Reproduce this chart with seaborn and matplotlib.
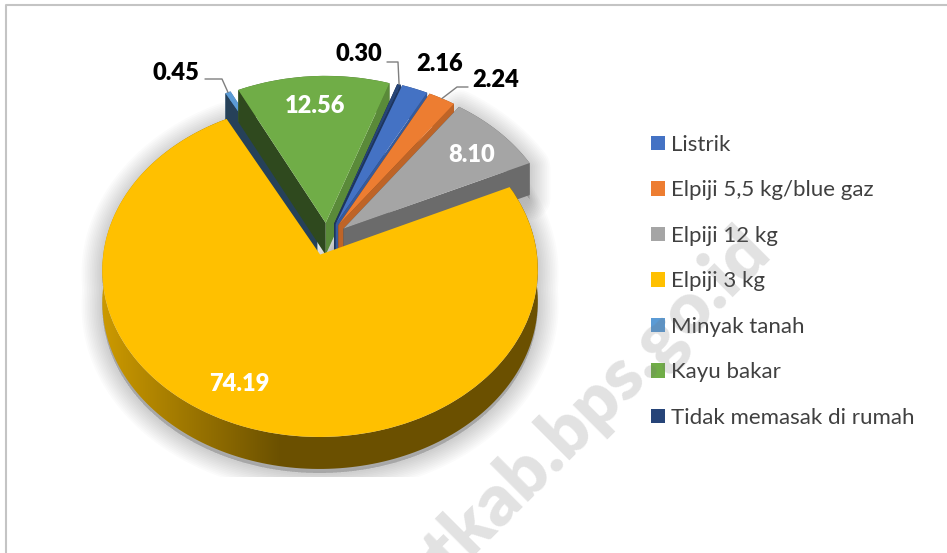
import numpy as np
import matplotlib
matplotlib.use("Agg")
import matplotlib.pyplot as plt
from matplotlib.patches import Polygon, Rectangle
from matplotlib.transforms import Transform
import seaborn as sns

# Data
categories = ["Listrik", "Elpiji 5,5 kg/blue gaz", "Elpiji 12 kg", "Elpiji 3 kg",
              "Minyak tanah", "Kayu bakar", "Tidak memasak di rumah"]
values = [2.16, 2.24, 8.10, 74.19, 0.45, 12.56, 0.30]
colors = ["#4472c4", "#ed7d31", "#a5a5a5", "#ffc000", "#5b9bd5", "#70ad47", "#264478"]

# Pie placement on the canvas (pixels), slices are seen from above with some perspective
cx, cy = 327, 239
rx, ry = 215, 163
persp_k = 0.09
depth = 32
explode_r = 0.1
start_clock = 20

sns.set_theme(style="white")
plt.rcParams["font.family"] = ["Lato", "DejaVu Sans"]


class TiltedPlane(Transform):
    input_dims = 2
    output_dims = 2
    is_affine = False

    def transform_non_affine(self, values):
        v = np.asarray(values, dtype=float)
        w = 1 + persp_k * v[:, 1]
        return np.column_stack([cx + rx * v[:, 0] / w, cy - ry * v[:, 1] / w])


tilt = TiltedPlane()


def shade(color, f):
    return tuple(c * f for c in matplotlib.colors.to_rgb(color))


fig, ax = plt.subplots(figsize=(9.47, 5.53), dpi=100)
fig.subplots_adjust(0, 0, 1, 1)

wedges, _ = ax.pie(values, colors=sns.color_palette(colors), explode=[explode_r] * len(values),
                   startangle=90 - start_clock, counterclock=False, wedgeprops={"linewidth": 0})
ax.set_aspect("auto")
ax.set_xlim(0, 947)
ax.set_ylim(553, 0)
ax.set_axis_off()

# Slice angles, clockwise from 12 o'clock
frac = np.array(values) / sum(values)
ends = start_clock + np.cumsum(frac) * 360
starts = ends - frac * 360
mids = np.radians((starts + ends) / 2)


def rim(i, n=200):
    t = np.radians(np.linspace(starts[i], ends[i], n))
    pts = np.column_stack([np.sin(t) + explode_r * np.sin(mids[i]),
                           np.cos(t) + explode_r * np.cos(mids[i])])
    return tilt.transform_non_affine(pts)


def apex(i):
    return tilt.transform_non_affine(np.array([[explode_r * np.sin(mids[i]),
                                                explode_r * np.cos(mids[i])]]))[0]


# back slices first, the big one in front of everything
draw_order = [4, 5, 6, 0, 1, 2, 3]
shadow_clip = Rectangle((0, 0), 947, 477, transform=ax.transData)
down = np.array([0, depth])
for z, i in enumerate(draw_order):
    base = 3 + z
    edge = rim(i)
    tip = apex(i)
    # soft shadow under the slice
    outline = np.vstack([tip, edge, edge[::-1] + down, tip + down])
    if i in (2, 3):
        for lw in np.linspace(3, 30, 12):
            sh = ax.fill(outline[:, 0], outline[:, 1] + 4, color="black", alpha=0.016,
                         lw=lw, joinstyle="round", zorder=2)[0]
            sh.set_clip_path(shadow_clip)
    # outer wall
    wall = np.vstack([edge, edge[::-1] + down])
    if i == 3:
        # lit from the left: horizontal gradient clipped to the wall
        xs = np.arange(0, 948)
        f = 0.42 + 0.38 * np.clip((280 - xs) / 178, 0, 1)
        grad = np.array([[shade(colors[i], v) for v in f]])
        img = ax.imshow(grad, extent=(0, 947, 553, 0), aspect="auto", zorder=base, interpolation="bilinear")
        clip = Polygon(wall, transform=ax.transData)
        img.set_clip_path(clip)
    else:
        ax.fill(wall[:, 0], wall[:, 1], color=shade(colors[i], 0.65), lw=0, zorder=base)
        # the two cut faces, left one in shade, right one lit
        right_f = 0.65 if i == 2 else 0.8
        faces = [(edge[0], 0.42), (edge[-1], right_f)]
        if np.sin(mids[i]) < 0:  # left of 12 o'clock the shaded face comes in front
            faces = faces[::-1]
        for k, (p, f) in enumerate(faces):
            quad = np.array([tip, p, p + down, tip + down])
            ax.fill(quad[:, 0], quad[:, 1], color=shade(colors[i], f), lw=0, zorder=base + 0.1 + k * 0.1)
    wedges[i].set_transform(tilt + ax.transData)
    wedges[i].set_zorder(base + 0.5)

ax.set_xlim(0, 947)
ax.set_ylim(553, 0)

# Value labels
label_text = [f"{v:.2f}" for v in values]
label_pos = [(440, 64), (496, 80), (472, 155), (239, 384), (176, 73), (315, 106), (359, 54)]
label_col = ["black", "black", "white", "white", "black", "white", "black"]
for s, p, c in zip(label_text, label_pos, label_col):
    ax.text(p[0], p[1], s, color=c, fontsize=17, fontweight="heavy", ha="center", va="center", zorder=20)

# Leader lines for the small slices
leaders = {4: [(205, 79), (222, 79)], 6: [(387, 62), (398, 62)], 1: [(468, 87), (457, 87)]}
for i, elbow in leaders.items():
    tipx, tipy = rim(i)[100]
    xs = [q[0] for q in elbow] + [tipx]
    ys = [q[1] for q in elbow] + [tipy]
    ax.plot(xs, ys, color="#7f7f7f", lw=1, zorder=19)

# Legend
ax.legend(wedges, categories, loc="upper left", bbox_to_anchor=(651 / 947, 1 - 135 / 553), frameon=False,
          fontsize=16, labelcolor="#404040", handlelength=0.625, handleheight=0.625, handletextpad=0.27,
          labelspacing=1.145, borderpad=0, borderaxespad=0)

# Chart frame, only its top and left sides are in view
ax.plot([6, 6, 947], [553, 5, 5], color="#c4c4c4", lw=1.5, zorder=1)

# Watermark
ax.text(578, 410, "utkab.bps.go.id", rotation=45, rotation_mode="anchor", ha="center", va="center_baseline",
        fontsize=52, fontweight="heavy", color="#707070", alpha=0.2, zorder=30)

fig.savefig("out.png", dpi=100)
